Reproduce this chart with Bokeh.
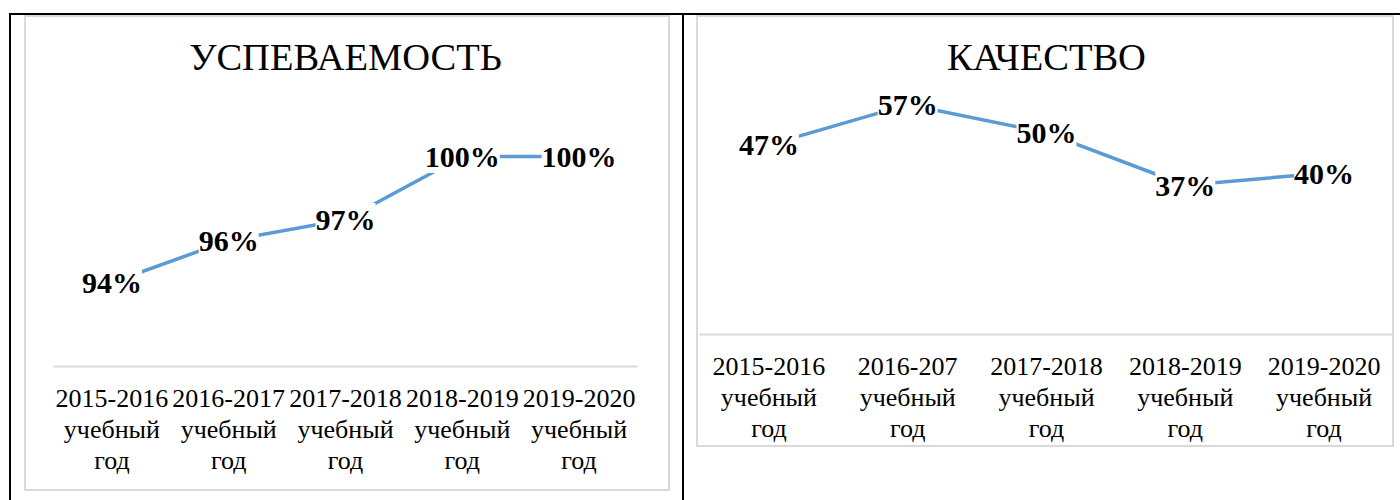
from bokeh.plotting import figure
from bokeh.models import ColumnDataSource, LabelSet, FactorRange, Range1d, Div
from bokeh.layouts import row, column
from bokeh.core.properties import value
from bokeh.embed import file_html
from bokeh.resources import INLINE

# ---- data ----
left_title = "УСПЕВАЕМОСТЬ"
left_years = ["2015-2016", "2016-2017", "2017-2018", "2018-2019", "2019-2020"]
left_values = [94, 96, 97, 100, 100]

right_title = "КАЧЕСТВО"
right_years = ["2015-2016", "2016-207", "2017-2018", "2018-2019", "2019-2020"]
right_values = [47, 57, 50, 37, 40]

suffix = "\nучебный\nгод"

FONT = "Liberation Serif"
LINE_COLOR = "#5B9BD5"
GRAY = "#D9D9D9"


def make_chart(title, years, vals, width, height, mb_left, mb_right, mb_top, mb_bottom, y0, y1, styles):
    factors = [y + suffix for y in years]
    p = figure(x_range=FactorRange(*factors, range_padding=0),
               y_range=Range1d(y0, y1),
               width=width, height=height,
               output_backend="svg", toolbar_location=None,
               y_axis_location=None,
               min_border_left=mb_left, min_border_right=mb_right,
               min_border_top=mb_top, min_border_bottom=mb_bottom,
               styles=styles)
    p.title.text = title
    p.title.align = "center"
    p.title.text_font = FONT
    p.title.text_font_size = "38.5px"
    p.title.text_font_style = "normal"
    p.title.text_color = "black"
    p.title.standoff = 16
    p.outline_line_color = None
    p.xgrid.visible = False
    p.ygrid.visible = False
    p.xaxis.axis_line_color = GRAY
    p.xaxis.axis_line_width = 2
    p.xaxis.major_tick_line_color = None
    p.xaxis.minor_tick_line_color = None
    p.xaxis.major_tick_out = 0
    p.xaxis.major_tick_in = 0
    p.xaxis.major_label_standoff = 17
    p.xaxis.major_label_text_font = FONT
    p.xaxis.major_label_text_font_size = "26px"
    p.xaxis.major_label_text_color = "black"
    p.xaxis.major_label_text_line_height = 1.07

    src = ColumnDataSource(dict(x=factors, y=vals, t=[f"{v}%" for v in vals]))
    p.line(x="x", y="y", source=src, line_color=LINE_COLOR, line_width=3.5)
    labels = LabelSet(x="x", y="y", text="t", source=src,
                      text_font=value(FONT), text_font_style="bold",
                      text_font_size="30px", text_color="black",
                      text_align="center", text_baseline="middle",
                      background_fill_color="white")
    p.add_layout(labels)
    return p


left = make_chart(left_title, left_years, left_values, 646, 476,
                  27, 35, 68, 127, 90, 90 + 281 / 21.0,
                  {"border": "2px solid " + GRAY})
left.margin = (0, 0, 0, 13)

# right chart: the canvas runs 12px below the visible box; the box's bottom edge is a
# CSS background stripe and the overflow is clipped away
right = make_chart(right_title, right_years, right_values, 698, 444,
                   1, 3, 68, 124, 0, 250 / 4.05,
                   {"border-top": "2px solid " + GRAY,
                    "border-left": "2px solid " + GRAY,
                    "border-right": "2px solid " + GRAY,
                    "background": f"linear-gradient({GRAY}, {GRAY}) left 0px bottom 12px / 100% 2px no-repeat",
                    "clip-path": "inset(0px 0px 12px 0px)"})
right.border_fill_color = None
right.background_fill_color = None
right.margin = (0, 0, 0, 12)

top_bar = Div(text="", width=1391, height=2, margin=(13, 0, 0, 9),
              styles={"background-color": "black"})
bar_a = Div(text="", width=2, height=485, margin=(0, 0, 0, 9),
            styles={"background-color": "black"})
bar_b = Div(text="", width=2, height=485, margin=(0, 0, 0, 12),
            styles={"background-color": "black"})

layout = column(top_bar, row(bar_a, left, bar_b, right, spacing=0), spacing=0)

open("out.html", "w").write(file_html(layout, INLINE))
